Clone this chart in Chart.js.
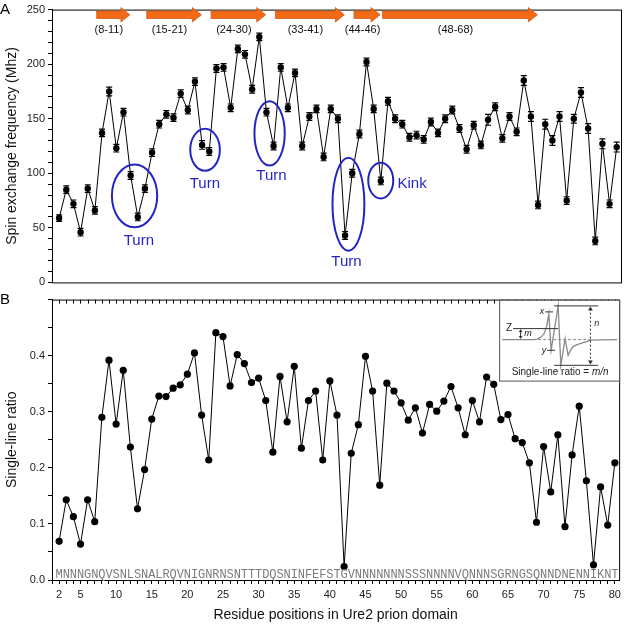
<!DOCTYPE html>
<html>
<head>
<meta charset="utf-8">
<script src="https://cdn.jsdelivr.net/npm/chart.js@4.4.1/dist/chart.umd.min.js"></script>
<style>
  body { margin: 0; background: #fff; }
  #wrap { position: relative; width: 625px; height: 628px; }
  canvas { position: absolute; left: 0; }
  #chartA { top: 0; }
  #chartB { top: 290px; }
</style>
</head>
<body>
<div id="wrap">
  <canvas id="chartA" width="625" height="292"></canvas>
  <canvas id="chartB" width="625" height="338"></canvas>
</div>
<script>
// residue numbers (Ure2 prion domain)
const residues = [2, 3, 4, 5, 6, 7, 8, 9, 10, 11,
  12, 13, 14, 15, 16, 17, 18, 19, 20, 21,
  22, 23, 24, 25, 26, 27, 28, 29, 30, 31,
  32, 33, 34, 35, 36, 37, 38, 39, 40, 41,
  42, 43, 44, 45, 46, 47, 48, 49, 50, 51,
  52, 53, 54, 55, 56, 57, 58, 59, 60, 61,
  62, 63, 64, 65, 66, 67, 68, 69, 70, 71,
  72, 73, 74, 75, 76, 77, 78, 79, 80];

const sequence = "MNNNGNQVSNLSNALRQVNIGNRNSNTTTDQSNINFEFSTGVNNNNNNNSSSNNNNVQNNNSGRNGSQNNDNENNIKNT";

// panel A: spin exchange frequency (MHz)
const spinFreq = [59, 85, 72, 46, 86, 66, 137, 175, 123, 156,
  98, 60, 86, 119, 145, 154, 151, 173, 158, 184,
  126, 120, 196, 197, 160, 214, 209, 177, 225, 156,
  125, 197, 160, 192, 125, 152, 159, 115, 159, 150,
  43, 100, 136, 202, 159, 93, 166, 150, 145, 133,
  135, 131, 147, 137, 150, 158, 141, 122, 144, 126,
  149, 161, 132, 152, 138, 185, 152, 71, 145, 130,
  152, 75, 150, 174, 141, 38, 127, 72, 124];

const spinErr = [3, 3.5, 3.5, 3.5, 3.5, 3.5, 3.5, 4, 3.5, 3.5,
  3.5, 3.5, 3.5, 3.5, 3.5, 3.5, 3.5, 3.5, 3.5, 3.5,
  4, 3.5, 3.5, 3.5, 3.5, 3.5, 3.5, 3.5, 3.5, 3.5,
  3.5, 3.5, 3.5, 3.5, 3.5, 3.5, 3.5, 3.5, 3.5, 3.5,
  3.5, 3.5, 3.5, 3.5, 3.5, 3.5, 3.5, 3.5, 3.5, 3.5,
  3.5, 3.5, 3.5, 3.5, 3.5, 3.5, 3.5, 3.5, 3.5, 3.5,
  5, 3.5, 3.5, 3.5, 3.5, 4.5, 4.5, 3.5, 4.5, 4.5,
  4.5, 3.5, 4, 4.5, 4.5, 3.5, 4.5, 3.5, 4.5];

// panel B: single-line ratio
const ratio = [0.069, 0.143, 0.113, 0.064, 0.143, 0.104, 0.290, 0.392, 0.278, 0.374,
  0.237, 0.127, 0.197, 0.287, 0.328, 0.327, 0.342, 0.348, 0.367, 0.405,
  0.294, 0.214, 0.441, 0.434, 0.346, 0.402, 0.386, 0.352, 0.360, 0.320,
  0.228, 0.363, 0.282, 0.381, 0.235, 0.320, 0.337, 0.214, 0.355, 0.294,
  0.024, 0.226, 0.277, 0.399, 0.337, 0.169, 0.351, 0.337, 0.316, 0.285,
  0.307, 0.262, 0.313, 0.301, 0.319, 0.345, 0.307, 0.259, 0.320, 0.282,
  0.362, 0.349, 0.286, 0.295, 0.252, 0.245, 0.209, 0.103, 0.238, 0.157,
  0.259, 0.095, 0.223, 0.310, 0.177, 0.027, 0.166, 0.098, 0.209];

const xTickLabels = [2, 5, 10, 15, 20, 25, 30, 35, 40, 45, 50, 55, 60, 65, 70, 75, 80];

// beta strands
const strandStart = [8, 15, 24, 33, 44, 48];
const strandEnd = [11, 21, 30, 41, 46, 68];
const strandLabels = ["(8-11)", "(15-21)", "(24-30)", "(33-41)", "(44-46)", "(48-68)"];

// circled regions in panel A (residue / MHz units)
const marks = [
  { text: "Turn", cx: 12.55, cy: 79.3, rx: 3.17, ry: 28.8, lx: 13.15, ly: 38.5, align: "center" },
  { text: "Turn", cx: 22.41, cy: 121.5, rx: 2.07, ry: 19.2, lx: 22.39, ly: 90.0, align: "center" },
  { text: "Turn", cx: 31.44, cy: 136.6, rx: 2.12, ry: 29.5, lx: 31.7, ly: 97.9, align: "center" },
  { text: "Turn", cx: 42.47, cy: 71.7, rx: 2.23, ry: 42.6, lx: 42.2, ly: 18.4, align: "center" },
  { text: "Kink", cx: 46.99, cy: 93.3, rx: 1.75, ry: 16.4, lx: 49.33, ly: 90.3, align: "left" }
];

const FONT = "'Liberation Sans', Arial, sans-serif";

/* ---------- panel A drawing ---------- */
const panelA = {
  id: "panelA",
  beforeDatasetsDraw(chart) {
    const ctx = chart.ctx;
    const y = chart.scales.y;
    const pts = chart.getDatasetMeta(0).data;
    ctx.save();
    ctx.strokeStyle = "#000";
    ctx.lineWidth = 1.2;
    pts.forEach((p, i) => {
      const top = y.getPixelForValue(spinFreq[i] + spinErr[i]);
      const bot = y.getPixelForValue(spinFreq[i] - spinErr[i]);
      ctx.beginPath();
      ctx.moveTo(p.x, top); ctx.lineTo(p.x, bot);
      ctx.moveTo(p.x - 3, top); ctx.lineTo(p.x + 3, top);
      ctx.moveTo(p.x - 3, bot); ctx.lineTo(p.x + 3, bot);
      ctx.stroke();
    });
    ctx.restore();
  },
  afterDraw(chart) {
    const { ctx, chartArea: a } = chart;
    const x = chart.scales.x, y = chart.scales.y;
    ctx.save();
    // frame
    ctx.strokeStyle = "#000";
    ctx.lineWidth = 1;
    ctx.strokeRect(a.left + 0.5, a.top + 0.5, a.right - a.left, a.bottom - a.top);

    // strand arrows
    strandStart.forEach((s, i) => {
      const x0 = x.getPixelForValue(s - 0.75);
      const x1 = x.getPixelForValue(strandEnd[i] + 0.9);
      const head = 9;
      ctx.beginPath();
      ctx.moveTo(x0, 11);
      ctx.lineTo(x1 - head, 11);
      ctx.lineTo(x1 - head, 7.5);
      ctx.lineTo(x1, 14.8);
      ctx.lineTo(x1 - head, 22);
      ctx.lineTo(x1 - head, 18.5);
      ctx.lineTo(x0, 18.5);
      ctx.closePath();
      ctx.fillStyle = "#F26A16";
      ctx.fill();
      ctx.strokeStyle = "#C8500C";
      ctx.lineWidth = 0.7;
      ctx.stroke();
      ctx.fillStyle = "#111";
      ctx.font = "11px " + FONT;
      ctx.textAlign = "center";
      ctx.textBaseline = "middle";
      ctx.fillText(strandLabels[i], (x0 + x1 - head) / 2, 29.5);
    });

    // turn / kink ellipses
    marks.forEach(m => {
      const cx = x.getPixelForValue(m.cx), cy = y.getPixelForValue(m.cy);
      const rx = x.getPixelForValue(m.cx + m.rx) - cx;
      const ry = cy - y.getPixelForValue(m.cy + m.ry);
      ctx.beginPath();
      ctx.ellipse(cx, cy, rx, ry, 0, 0, Math.PI * 2);
      ctx.strokeStyle = "#2424C4";
      ctx.lineWidth = 2;
      ctx.stroke();
      ctx.fillStyle = "#2424C4";
      ctx.font = "15px " + FONT;
      ctx.textAlign = m.align;
      ctx.textBaseline = "middle";
      ctx.fillText(m.text, x.getPixelForValue(m.lx), y.getPixelForValue(m.ly));
    });

    // panel letter
    ctx.fillStyle = "#000";
    ctx.font = "15px " + FONT;
    ctx.textAlign = "left";
    ctx.textBaseline = "alphabetic";
    ctx.fillText("A", 0, 14);
    ctx.restore();
  }
};

/* ---------- panel B drawing ---------- */
function arrowHead(ctx, px, py, dir, size) {
  ctx.beginPath();
  ctx.moveTo(px, py);
  ctx.lineTo(px - size * 0.6, py - dir * size);
  ctx.lineTo(px + size * 0.6, py - dir * size);
  ctx.closePath();
  ctx.fill();
}

const panelB = {
  id: "panelB",
  afterDraw(chart) {
    const { ctx, chartArea: a } = chart;
    const x = chart.scales.x;
    ctx.save();
    ctx.strokeStyle = "#000";
    ctx.lineWidth = 1;
    ctx.beginPath();
    ctx.moveTo(a.left, a.top + 0.5);
    ctx.lineTo(a.right + 0.5, a.top + 0.5);
    ctx.lineTo(a.right + 0.5, a.bottom);
    ctx.stroke();
    // ticks along the shared top edge
    ctx.beginPath();
    x.ticks.forEach(t => {
      const px = Math.round(x.getPixelForValue(t.value)) + 0.5;
      ctx.moveTo(px, a.top);
      ctx.lineTo(px, a.top + 4);
    });
    ctx.stroke();

    // sequence along the bottom
    ctx.font = "12px 'Liberation Mono', monospace";
    ctx.fillStyle = "#7c7c7c";
    ctx.textAlign = "center";
    ctx.textBaseline = "alphabetic";
    residues.forEach((r, i) => {
      ctx.fillText(sequence[i], x.getPixelForValue(r), a.bottom - 2.5);
    });

    // inset: definition of the single-line ratio
    const L = a.right - 120, T = a.top;
    const P = (dx, dy) => [L + dx, T + dy];
    ctx.fillStyle = "#fff";
    ctx.fillRect(L, T + 1, 120, 80);
    ctx.strokeStyle = "#555";
    ctx.strokeRect(L + 0.5, T + 0.5, 120, 81);

    // dashed baseline
    ctx.strokeStyle = "#8c8c8c";
    ctx.setLineDash([3, 2]);
    ctx.beginPath();
    ctx.moveTo(...P(34, 40)); ctx.lineTo(...P(92, 40));
    ctx.stroke();
    ctx.setLineDash([]);

    // spectrum
    const spec = [[3, 40], [34, 40], [38, 39.5], [42, 37.5], [45, 34], [47.5, 27], [49.7, 14],
      [52, 50.7], [59, 6.3], [61.7, 65.7], [66, 39], [69, 55.7], [71.5, 50.5], [74, 47],
      [78, 45], [84, 43], [92, 40.5], [118, 40]];
    ctx.strokeStyle = "#8a8a8a";
    ctx.lineWidth = 1.3;
    ctx.beginPath();
    spec.forEach((p, i) => i ? ctx.lineTo(...P(p[0], p[1])) : ctx.moveTo(...P(p[0], p[1])));
    ctx.stroke();

    // guide lines
    ctx.strokeStyle = "#333";
    ctx.lineWidth = 1;
    const seg = (x0, y0, x1, y1) => { ctx.beginPath(); ctx.moveTo(...P(x0, y0)); ctx.lineTo(...P(x1, y1)); ctx.stroke(); };
    seg(55, 6.3, 99, 6.3);
    seg(55, 65.7, 99, 65.7);
    seg(46, 12.3, 54, 12.3);
    seg(14, 29, 59, 29);
    seg(48, 50.7, 56, 50.7);
    // m arrow
    seg(21.5, 31, 21.5, 38);
    ctx.fillStyle = "#333";
    arrowHead(ctx, L + 21.5, T + 29.5, -1, 3);
    arrowHead(ctx, L + 21.5, T + 39.5, 1, 3);
    // n arrow (dotted)
    ctx.setLineDash([2, 2]);
    seg(91.3, 9, 91.3, 63);
    ctx.setLineDash([]);
    arrowHead(ctx, L + 91.3, T + 7, -1, 4);
    arrowHead(ctx, L + 91.3, T + 65, 1, 4);

    ctx.fillStyle = "#222";
    ctx.textBaseline = "middle";
    ctx.font = "italic 9px " + FONT;
    ctx.textAlign = "right";
    ctx.fillText("x", L + 45, T + 12);
    ctx.fillText("y", L + 47, T + 51);
    ctx.font = "10px " + FONT;
    ctx.fillText("Z", L + 13, T + 29);
    ctx.font = "italic 9px " + FONT;
    ctx.textAlign = "left";
    ctx.fillText("m", L + 25, T + 34);
    ctx.fillText("n", L + 95, T + 24);
    // caption
    const cap1 = "Single-line ratio = ";
    ctx.font = "10px " + FONT;
    const w1 = ctx.measureText(cap1).width;
    ctx.font = "italic 10px " + FONT;
    const w2 = ctx.measureText("m/n").width;
    const cx0 = L + 61 - (w1 + w2) / 2;
    ctx.font = "10px " + FONT;
    ctx.fillText(cap1, cx0, T + 73);
    ctx.font = "italic 10px " + FONT;
    ctx.fillText("m/n", cx0 + w1, T + 73);

    // panel letter
    ctx.fillStyle = "#000";
    ctx.font = "15px " + FONT;
    ctx.textBaseline = "alphabetic";
    ctx.fillText("B", 0, 14);
    ctx.restore();
  }
};

const tickFont = { size: 11, family: FONT };
const titleFont = { size: 14, family: FONT };

/* ---------- chart A ---------- */
new Chart(document.getElementById("chartA"), {
  type: "line",
  data: {
    datasets: [{
      data: residues.map((r, i) => ({ x: r, y: spinFreq[i] })),
      borderColor: "#000",
      borderWidth: 1,
      pointRadius: 3.2,
      pointBackgroundColor: "#000",
      pointBorderWidth: 0,
      tension: 0
    }]
  },
  options: {
    responsive: false,
    animation: false,
    layout: { padding: { left: 0, right: 3, top: 5, bottom: 1 } },
    plugins: { legend: { display: false }, tooltip: { enabled: false } },
    scales: {
      x: { type: "linear", min: 1, max: 80.6, display: false },
      y: {
        min: 0, max: 250,
        ticks: {
          stepSize: 10, autoSkip: false, padding: 3, color: "#222", font: tickFont,
          callback: v => (v % 50 === 0 ? v : "")
        },
        grid: { drawOnChartArea: false, tickLength: 4, color: "#000" },
        border: { color: "#000" },
        title: { display: true, text: "Spin exchange frequency (Mhz)", color: "#111", font: titleFont, padding: { top: 4, bottom: 0 } },
        afterFit: s => { s.width = 52; }
      }
    }
  },
  plugins: [panelA]
});

/* ---------- chart B ---------- */
new Chart(document.getElementById("chartB"), {
  type: "line",
  data: {
    datasets: [{
      data: residues.map((r, i) => ({ x: r, y: ratio[i] })),
      borderColor: "#000",
      borderWidth: 1,
      pointRadius: 3.6,
      pointBackgroundColor: "#000",
      pointBorderWidth: 0,
      tension: 0
    }]
  },
  options: {
    responsive: false,
    animation: false,
    layout: { padding: { left: 0, right: 3, top: 1, bottom: 0 } },
    plugins: { legend: { display: false }, tooltip: { enabled: false } },
    scales: {
      x: {
        type: "linear", min: 1, max: 80.6,
        ticks: {
          stepSize: 1, autoSkip: false, includeBounds: false, maxRotation: 0, padding: 4,
          color: "#222", font: tickFont,
          callback: v => (xTickLabels.includes(v) ? v : "")
        },
        grid: { drawOnChartArea: false, tickLength: 4, color: "#000" },
        border: { color: "#000" },
        title: { display: true, text: "Residue positions in Ure2 prion domain", color: "#111", font: titleFont, padding: { top: 0, bottom: 4 } },
        afterFit: s => { s.height = 48; }
      },
      y: {
        min: 0, max: 0.5,
        ticks: {
          stepSize: 0.05, autoSkip: false, padding: 3, color: "#222", font: tickFont,
          callback: v => {
            const k = Math.round(v * 100);
            return (k % 10 === 0 && k < 50) ? (k / 100).toFixed(1) : "";
          }
        },
        grid: { drawOnChartArea: false, tickLength: 4, color: "#000" },
        border: { color: "#000" },
        title: { display: true, text: "Single-line ratio", color: "#111", font: titleFont, padding: { top: 4, bottom: 0 } },
        afterFit: s => { s.width = 52; }
      }
    }
  },
  plugins: [panelB]
});
</script>
</body>
</html>
